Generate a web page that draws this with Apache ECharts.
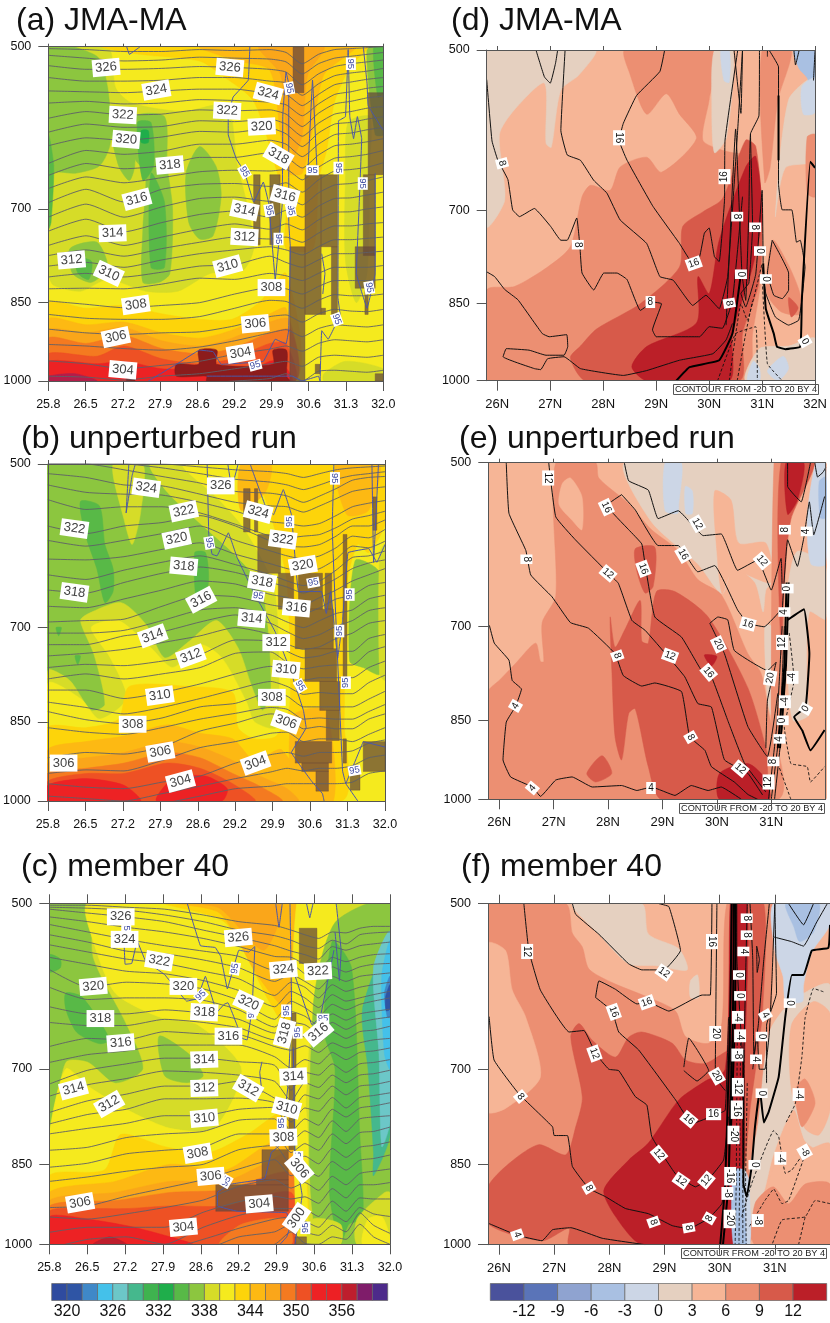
<!DOCTYPE html><html><head><meta charset="utf-8"><style>html,body{margin:0;background:#fff}#c{width:830px;height:1323px}</style></head><body><div id="c"></div>
<script src="https://cdn.jsdelivr.net/npm/echarts@6/dist/echarts.min.js"></script>
<script>
// ---- colour bands
const thetaColors=['#2f4b9f','#2f55a5','#3f88c8','#44c1ea','#6cc7c8','#45b88d','#3fb34f','#1fae4b','#58b947','#8cc63f','#d6dc28','#f5ea1e','#fdd40a','#fdb913','#faa61a','#f47a20','#ee5124','#ed2224','#ed2024','#be1e2d','#7f1c6a','#4d2a8a'];
const diffColors=['#4a529c','#5a74b8','#8fa3d0','#a9c0e2','#ccd6e6','#e5d0c0','#f6b596','#ec8f72','#d75a4a','#bb1f28'];
const [BL,TE,TL,G1,G2,YG,Y,Y2,O1,O2,O3,O4,R,DK]=['#3f88c8','#45b88d','#6cc7c8','#58b947','#8cc63f','#d6dc28','#f5ea1e','#fdd40a','#fdb913','#faa61a','#f47a20','#ee5124','#ed2224','#be1e2d'];
const MAR='#8c1c1c',B2='#a9c0e2',B1='#ccd6e6',TN='#e5d0c0',S1='#f6b596',S2='#ec8f72',S3='#d75a4a',S4='#bb1f28';
const xTicksLeft=[25.8,26.49,27.18,27.87,28.56,29.24,29.93,30.62,31.31,32];
const pressureTicks=[500,700,850,1000];
const thetaTicks=[320,326,332,338,344,350,356];
const diffTicks=[-12,-9,-6,-3,0,3,6,9,12];
// ---- theta contours
const levels=[328,327,326,325,324,323,322,321,320,319,318,317,316,315,314,313,312,311,310,309,308,307,306,305,304,303,302,301,300];
const lonsAB=[25.8,26.5,27.2,27.9,28.6,29.25,29.9,30.2,30.5,30.8,31.1,31.4,31.7,32];
const lonsC=[25.8,26.5,27.2,27.9,28.6,29.25,29.9,30.2,30.45,30.7,30.95,31.2,31.45,31.7,32];
const thetaA=[
[502,503,505,505,503,504,503,506,518,508,503,502,501,500],
[509,512,515,514,511,512,513,516,529,518,512,510,508,506],
[520,524,524,523,521,522,524,527,541,529,521,518,516,514],
[533,537,537,536,533,533,537,539,553,540,531,528,526,523],
[548,549,550,548,546,546,551,552,565,552,541,538,535,533],
[562,560,563,562,558,559,561,564,577,563,552,549,545,543],
[580,572,576,575,570,571,570,575,590,574,563,560,556,554],
[597,587,591,590,583,584,581,587,602,586,575,572,568,566],
[614,604,607,603,596,597,592,599,615,598,587,585,581,578],
[637,620,625,621,612,612,607,612,628,612,600,598,594,591],
[653,637,644,640,629,629,623,628,643,626,614,612,609,605],
[671,655,663,656,648,646,647,645,659,642,630,628,625,620],
[691,672,690,672,665,664,668,663,676,659,647,645,642,636],
[712,693,712,697,685,683,689,682,694,677,666,664,660,655],
[733,715,734,720,708,703,712,702,712,696,685,684,680,676],
[755,740,755,742,730,722,730,722,731,716,705,704,700,697],
[771,762,772,760,750,742,745,742,750,736,725,725,722,720],
[788,782,790,778,768,762,757,762,770,757,746,746,744,742],
[806,800,806,798,788,786,772,782,790,778,768,768,766,764],
[826,825,826,818,808,810,800,804,812,800,790,790,790,787],
[847,853,859,855,850,835,824,826,835,822,812,812,812,810],
[871,878,880,880,875,860,846,848,860,846,836,838,838,835],
[898,905,908,905,903,892,875,872,885,870,862,865,866,862],
[927,930,935,938,932,920,905,899,912,897,890,892,894,890],
[959,965,975,968,960,946,936,930,940,925,918,920,922,918],
[990,992,998,990,985,975,965,960,970,952,948,950,952,948],
[1005,1012,1015,1010,1005,1000,995,985,1000,980,978,980,982,978]];
const thetaB=[
[500,500,500,500,503,506,508,510,514,510,506,504,503,502],
[500,500,500,504,510,516,519,522,527,522,516,512,510,508],
[500,500,506,513,520,529,531,534,541,534,526,517,514,513],
[510,514,522,523,532,541,545,546,552,545,537,529,526,524],
[522,530,532,533,541,551,563,565,568,565,556,546,542,539],
[538,549,546,546,553,566,580,582,580,578,570,560,556,551],
[568,577,568,564,556,568,586,592,593,590,580,568,568,561],
[585,592,585,577,568,585,598,604,608,604,594,580,582,572],
[608,609,605,596,588,602,614,620,624,620,608,592,594,586],
[628,634,622,612,604,615,628,636,642,636,622,606,604,598],
[648,652,638,626,618,625,638,644,652,644,633,620,613,609],
[670,672,660,648,636,640,654,658,668,658,648,636,628,620],
[692,690,688,670,655,657,668,672,680,672,660,655,642,638],
[708,708,704,690,675,672,682,692,700,690,680,675,660,655],
[725,725,712,706,692,682,694,706,716,710,698,690,676,672],
[742,738,732,722,712,700,710,724,732,728,716,708,694,690],
[760,755,757,750,740,718,720,735,745,742,735,735,716,710],
[778,770,778,770,760,738,736,752,762,758,756,756,736,728],
[796,796,810,800,786,770,758,770,780,776,776,776,760,750],
[816,825,836,825,810,795,782,790,803,800,802,802,784,772],
[832,846,853,843,824,818,800,806,824,824,824,824,811,798],
[860,868,872,860,845,835,825,828,845,843,845,845,832,820],
[915,905,908,895,866,852,836,840,862,858,862,862,845,836],
[945,938,940,920,896,885,870,868,885,880,880,885,872,860],
[965,972,975,962,950,925,909,905,912,905,905,902,888,882],
[990,995,1000,985,970,955,942,935,940,935,935,930,915,910],
[1010,1010,1010,1005,990,975,970,965,965,965,965,962,945,940]];
const thetaC=[
[502,502,504,506,512,519,523,528,533,537,530,531,526,524,524],
[504,505,507,512,519,528,534,539,545,548,539,543,533,531,530],
[506,510,514,519,528,536,545,551,555,560,546,550,545,543,541],
[514,519,525,530,537,546,557,558,566,572,558,563,558,555,554],
[522,530,538,545,551,557,573,566,577,583,569,575,569,566,565],
[533,541,551,554,561,570,586,578,586,595,580,586,580,578,576],
[544,552,560,565,574,583,603,587,593,606,590,598,593,590,587],
[558,566,574,577,585,597,617,598,606,618,602,610,606,602,598],
[572,593,587,589,595,609,633,610,618,629,614,621,614,610,606],
[593,608,606,606,609,621,643,623,629,641,626,634,626,623,620],
[617,626,626,621,625,633,651,637,640,651,637,646,637,633,630],
[637,641,641,633,637,644,660,654,656,664,649,658,649,647,642],
[669,658,660,649,652,653,669,674,668,677,664,671,664,660,658],
[691,680,675,667,667,667,683,699,687,693,677,687,677,675,671],
[722,702,693,685,685,690,695,731,705,709,693,705,693,691,687],
[740,723,714,703,705,709,718,747,720,727,709,720,709,707,702],
[765,747,737,725,725,718,743,763,738,744,725,738,725,723,718],
[783,768,760,744,744,743,750,780,758,763,742,758,742,739,735],
[799,790,782,770,770,760,757,795,775,785,760,772,758,755,750],
[826,821,805,799,795,777,775,812,794,805,778,795,775,772,770],
[855,848,832,826,821,799,799,830,815,826,799,815,797,795,788],
[880,872,862,855,850,825,818,850,836,849,823,838,821,818,812],
[928,925,907,892,877,858,842,870,859,871,845,860,843,840,834],
[946,950,940,928,914,889,877,892,882,896,871,886,866,862,858],
[976,966,966,966,937,917,907,912,908,920,893,910,886,886,882],
[1008,990,985,1000,966,943,930,930,931,945,916,935,910,912,912],
[1010,1010,1010,1010,990,968,950,946,954,966,940,955,928,940,945],
[1010,1010,1010,1010,1010,985,975,960,975,982,962,975,938,962,978],
[1010,1010,1010,1010,1010,1005,1000,975,998,1000,985,990,960,985,1000]];
// ---- RH 95 contours
const rhA=[
[[27.25,500],[27.3,508],[27.5,500]],
[[29.53,500],[29.5,536],[29.22,555],[29.13,578],[29.13,600],[29.28,631],[29.43,648],[29.6,690],[29.78,662],[29.88,692],[30,810],[30.13,692],[30.14,576],[30.2,527],[30.25,540],[30.25,720],[30.28,758]],
[[30.61,640],[30.69,536],[30.77,640]],
[[31.17,583],[31.16,841],[31.2,871],[30.98,917],[30.86,901],[30.83,1000]],
[[31.17,583],[31.3,578],[31.35,503],[31.38,578],[31.45,605],[31.52,578],[31.6,605],[31.55,700],[31.5,800],[31.7,860],[31.85,800],[31.85,650]],
[[31.63,500],[31.7,540],[31.72,565],[32,595]],
[[27.65,1000],[28.17,966],[28.6,938],[28.85,941],[29,966],[29.78,960],[30,917],[30.2,926],[30.25,900],[30.28,758]],
[[28.73,990],[29.9,990],[30.32,990],[30.5,1000],[30.8,990],[30.83,1000]],
[[30.86,768],[30.92,800],[30.88,835]]];
const rhB=[
[[27.24,553],[27.29,500]],[[27.24,553],[27.35,512],[27.41,500]],
[[28.73,500],[28.76,578],[28.82,602],[28.91,604],[29.12,576],[29.28,606],[29.58,650],[29.98,706],[30.25,762],[30.5,830],[30.55,860],[30.28,905],[30.65,960],[30.85,985],[30.88,1000]],
[[29.11,500],[29.18,525],[29.3,500]],
[[29.52,500],[29.8,545],[29.95,555],[30.13,527],[30.28,555],[30.41,650],[30.83,650],[30.92,680],[31.0,650],[31.13,745],[31.22,690],[31.32,600],[31.7,595],[31.85,612],[32,590]],
[[31.06,500],[31.03,570],[31.22,940],[31.28,965],[31.5,1000]],
[[31.76,500],[31.79,612],[31.88,500]],
[[31.6,885],[31.28,965]],[[31.6,885],[32,895]]];
const rhC=[
[[28.31,500],[28.55,545],[28.82,547],[28.92,557],[29.04,595],[29.25,550],[29.43,552],[29.54,546],[29.49,620],[29.4,660],[29.31,658],[29.05,612],[28.98,614],[28.85,624],[28.64,580],[28.49,607],[28.3,610],[27.9,578],[27.55,562],[27.4,540],[27.3,565],[27.18,566],[27.15,525]],
[[29.92,500],[29.98,525],[30.04,500]],
[[30.18,500],[30.21,620],[30.15,720],[30.06,785],[30.03,815],[29.84,830],[29.72,875],[29.1,885],[28.86,900],[28.86,925],[29.22,935],[30.12,938],[30.18,965],[30.12,985],[30,1000]],
[[30.48,500],[30.54,515],[30.6,500]],
[[31.02,500],[31.11,550],[31.08,585],[31.0,530]],
[[30.25,575],[30.58,640],[30.73,630],[30.98,550]],
[[29.67,690],[29.63,705],[29.67,735]],
[[30.24,670],[30.27,830],[30.4,905],[30.27,1000]]];
// ---- brown shaded blocks [lon0,lon1,p0,p1]
const shadeA=[[30.33,30.53,500,550],[29.6,29.72,652,754],[29.9,30.09,652,754],[30.55,30.85,652,871],[30.85,31.15,652,757],[31.04,31.15,757,871],[30.27,30.55,757,1000],[31.63,31.85,652,771],[31.48,31.85,757,825],[31.72,32,550,652],[31.66,31.72,825,871],[30.74,30.83,966,985],[31.85,32,985,1000],[30.85,30.93,860,871]];
const shadeB=[[29.4,29.52,526,575],[29.6,29.66,526,575],[29.66,30.08,578,626],[30.04,30.32,626,674],[30.41,30.85,626,674],[30.9,31.02,626,674],[30.35,31.05,674,731],[30.53,31.11,731,782],[30.8,31.17,782,830],[30.92,31.16,830,883],[30.35,31.02,885,925],[30.47,30.96,925,941],[30.73,30.96,941,980],[31.23,31.3,578,779],[31.23,31.29,880,925],[31.6,32,885,941],[31.36,31.54,941,978],[31.78,31.85,535,573]];
const shadeC=[[30.35,30.67,526,565],[30.21,30.29,625,701],[30.16,30.27,701,825],[29.67,30.15,825,877],[29.57,30.15,877,886],[28.83,30.15,886,935],[30.27,30.48,985,1000]];
// ---- theta-e filled bands, painted back to front
const fillA=[
[Y,[[25.8,500],[32,500],[32,1000],[25.8,1000]]],
[YG,[[25.8,500],[26.9,500],[27.05,545],[27.35,562],[28.3,572],[29.1,565],[29.3,640],[29.5,700],[29.6,760],[29.4,795],[28.8,800],[28.2,830],[27.6,830],[26.9,810],[26.4,830],[25.9,820],[25.8,800]]],
[YG,[[31.35,585],[31.75,578],[31.75,640],[31.7,800],[31.5,850],[31.3,780],[31.3,650]]],
[YG,[[30.9,985],[31.3,960],[32,975],[32,1000],[30.9,1000]]],
[G2,[[25.8,500],[26.7,510],[26.9,545],[26.95,610],[26.75,640],[26.3,650],[25.9,650],[25.8,690]]],
[G2,[[26.2,760],[26.7,750],[26.9,790],[26.6,815],[26.25,800]]],
[G2,[[27.4,578],[27.95,578],[28,640],[28.1,700],[28.05,800],[27.85,815],[27.55,815],[27.55,730],[27.6,650],[27.4,630]]],
[G2,[[26.95,580],[27.4,575],[27.4,640],[27.3,660],[27.1,640]]],
[G2,[[28.35,650],[28.6,615],[28.9,640],[29,680],[28.85,740],[28.6,745],[28.4,720]]],
[G2,[[31.7,500],[32,500],[32,600],[31.85,600]]],
[G1,[[27.45,585],[27.7,585],[27.75,640],[27.55,660]]],
[G1,[[27.7,650],[27.95,690],[27.95,790],[27.7,790]]],
[G1,[[25.8,600],[25.9,640],[25.85,720],[25.8,730]]],
[G1,[[26.3,775],[26.6,780],[26.55,810],[26.35,800]]],
[G1,[[31.82,500],[32,500],[32,550],[31.9,555]]],
['#1fae4b',[[27.52,595],[27.65,595],[27.65,610],[27.52,610]]],
[Y2,[[26.8,500],[27.5,508],[28.6,515],[29,530],[29.6,560],[30,640],[30.2,700],[30.2,760],[30.7,760],[30.8,660],[30.95,620],[31.1,560],[31.4,520],[31.7,500]]],
[O1,[[28.6,500],[29.3,515],[29.9,525],[30.1,600],[30.25,650],[30.5,650],[30.7,590],[30.9,530],[31.3,510],[31.5,500]]],
[O2,[[29.7,500],[30.1,530],[30.2,590],[30.35,625],[30.5,600],[30.6,530],[30.9,500]]],
[Y2,[[25.8,850],[26.5,860],[27.2,855],[27.9,870],[28.6,880],[29.2,880],[29.7,850],[30.2,800],[30.35,1000],[25.8,1000]]],
[O1,[[25.8,880],[26.5,890],[27.2,885],[27.9,905],[28.6,915],[29.2,900],[29.9,870],[30.2,860],[30.35,1000],[25.8,1000]]],
[O2,[[25.8,900],[26.5,905],[27.2,895],[27.9,920],[28.6,930],[29.2,915],[29.9,885],[30.25,880],[30.35,1000],[25.8,1000]]],
[O3,[[25.8,915],[26.5,925],[27.2,910],[27.9,935],[28.6,945],[29.2,935],[29.9,905],[30.3,900],[30.35,1000],[25.8,1000]]],
[O4,[[25.8,945],[26.7,950],[27.2,930],[27.9,955],[28.6,965],[29.2,955],[29.9,925],[30.2,925],[30.35,1000],[25.8,1000]]],
[R,[[25.8,960],[26.7,965],[27.2,960],[27.9,975],[28.6,975],[29.5,980],[29.9,960],[30.1,960],[30.3,1000],[25.8,1000]]],
['#b41e4a',[[25.8,990],[26.3,985],[26.7,1000],[25.8,1000]]],
[MAR,[[28.58,938],[28.92,938],[28.92,966],[29.96,966],[29.96,938],[30.21,938],[30.21,990],[30.27,1000],[28.73,1000],[28.73,990],[28.17,990],[28.17,966],[28.58,966]]],
[MAR,[[27.25,993],[27.4,993],[27.4,1000],[27.25,1000]]]];
const fillB=[
[G2,[[25.8,500],[32,500],[32,1000],[25.8,1000]]],
[YG,[[25.8,1000],[25.8,765],[26.2,780],[26.6,830],[26.85,820],[26.65,740],[26.4,690],[26.55,680],[27.15,665],[27.6,695],[27.95,745],[28.4,720],[28.9,690],[29.3,730],[29.55,790],[29.75,830],[29.9,800],[29.85,700],[29.7,640],[29.2,600],[28.6,565],[28,530],[27.7,500],[32,500],[32,1000]]],
[YG,[[27,500],[27.2,560],[27.35,590],[27.5,555],[27.55,500]]],
[G1,[[26.4,540],[26.75,545],[26.85,590],[27,620],[27,650],[26.85,665],[26.7,620],[26.5,580]]],
[G1,[[28.5,600],[28.7,600],[28.75,640],[28.55,670]]],
[G1,[[25.95,700],[26.05,700],[26,712]]],
[G1,[[26.3,742],[26.4,742],[26.35,755]]],
[Y,[[25.8,1000],[25.8,785],[26.4,810],[26.75,845],[27.25,810],[26.95,745],[26.6,700],[27.1,690],[27.7,730],[28.1,760],[28.6,725],[29,745],[29.45,815],[29.6,850],[30,860],[30.05,730],[29.95,640],[29.4,570],[28.9,535],[28.3,500],[32,500],[32,1000]]],
[G2,[[31.45,610],[31.9,625],[31.9,770],[31.6,760],[31.35,750]]],
[YG,[[31.9,600],[32,590],[32,780],[31.9,770]]],
[Y2,[[25.8,1000],[25.8,860],[26.5,860],[27.1,845],[27.3,790],[28.4,790],[29.2,800],[29.3,860],[29.6,880],[30,875],[30.25,820],[30.2,640],[30.05,590],[29.75,530],[29.4,500],[32,500],[32,565],[31.7,600],[31.5,590],[31.3,640],[31.25,850],[31.2,1000]]],
[O1,[[25.8,1000],[25.8,900],[26.5,885],[27.2,875],[28,855],[28.6,870],[29.2,880],[29.6,920],[30.1,900],[30.5,1000]]],
[O1,[[29.35,500],[29.9,500],[29.8,530],[29.35,550]]],
[O1,[[31.1,500],[31.9,500],[31.7,550],[31.3,555]]],
[O1,[[30.3,840],[30.9,830],[31.05,1000],[30.35,1000]]],
[O2,[[25.8,1000],[25.8,925],[26.5,915],[27.2,905],[28,885],[28.6,895],[29.2,920],[29.7,950],[30.2,975],[30.4,1000]]],
[O3,[[25.8,1000],[25.8,945],[26.5,935],[27.2,925],[28,905],[28.6,915],[29.2,945],[29.7,970],[30.1,1000]]],
[O4,[[25.8,1000],[25.8,960],[26.5,945],[27.2,945],[28,925],[28.6,935],[29.2,965],[29.6,1000]]],
[R,[[25.8,1000],[25.8,968],[26.5,955],[27.2,968],[27.5,1000]]],
[R,[[27.8,1000],[28.1,955],[28.7,950],[29.1,975],[29,1000]]]];
const fillC=[
[YG,[[25.8,500],[32,500],[32,1000],[25.8,1000]]],
[G2,[[25.8,500],[26.5,500],[26.6,560],[27.2,640],[27.5,700],[27,720],[26.5,690],[26.1,690],[25.9,770],[25.8,790]]],
[G1,[[25.8,555],[26,560],[26,570],[25.8,575]]],
[G1,[[26.1,600],[26.4,605],[26.9,660],[26.7,665],[26.3,650],[26.1,620]]],
[G2,[[27.8,655],[28.35,680],[28.6,710],[28.3,720],[27.9,710]]],
[Y,[[26.5,500],[29.8,500],[30.3,650],[30.3,900],[25.8,900],[25.8,800],[26.1,700],[26.5,725],[27.2,760],[28,790],[28.8,790],[29.3,700],[28.5,640],[27.8,630],[27,600],[26.6,540]]],
[Y2,[[27.9,500],[29,520],[29.8,610],[30.2,650],[30.4,500]]],
[Y2,[[25.8,1000],[25.8,870],[26.8,860],[27.1,800],[27.9,820],[28.7,830],[29.4,800],[30.2,760],[30.35,1000]]],
[O1,[[28.1,500],[28.9,510],[29.6,580],[30.15,620],[30.35,500]]],
[O1,[[25.8,1000],[25.8,900],[27,880],[28,850],[29,860],[29.7,820],[30.2,800],[30.3,1000]]],
[O2,[[28.3,500],[28.9,505],[29.7,550],[30,500]]],
[O2,[[25.8,1000],[25.8,915],[27,900],[28,880],[29,880],[29.7,850],[30.2,830],[30.3,1000]]],
[O3,[[25.8,1000],[25.8,925],[27,915],[28,900],[29,895],[30.2,865],[30.3,1000]]],
[O4,[[25.8,1000],[25.8,935],[26.5,930],[27.2,930],[28,925],[29,925],[30.2,900],[30.25,1000]]],
[R,[[25.8,1000],[25.8,945],[26.5,950],[27.3,965],[28,985],[28.4,1000]]],
[DK,[[26.6,1000],[26.9,985],[27.2,1000]]],
[O3,[[28.9,1000],[29.3,960],[30.1,950],[30.2,1000]]],
[Y,[[30.3,500],[31,500],[31,640],[30.6,640],[30.5,700],[30.45,800],[30.5,1000],[30.3,1000]]],
[G2,[[30.6,620],[31,520],[32,500],[32,1000],[30.7,1000]]],
[G1,[[30.95,540],[31.3,570],[31.45,800],[31.5,950],[31.25,960],[31.1,1000],[30.9,900],[31,700],[30.8,650]]],
[TE,[[31.5,620],[32,540],[32,800],[31.7,870],[31.7,830],[31.6,700]]],
[TL,[[31.7,570],[32,530],[32,780],[31.85,820],[31.8,680]]],
['#44c1ea',[[31.85,580],[32,540],[32,700],[31.9,680]]],
[BL,[[31.9,600],[32,580],[32,630],[31.95,630]]],
['#2f55a5',[[31.92,605],[32,590],[32,620],[31.93,622]]],
[YG,[[31.4,950],[31.9,900],[32,900],[32,1000],[31.4,1000]]],
[Y,[[31.5,1000],[31.6,950],[31.85,945],[32,985],[32,1000]]],
[YG,[[30.5,1000],[30.6,950],[31.1,960],[31.1,1000]]]];
// ---- perturbation filled bands
const fillD=[
[S1,[[25.8,500],[32,500],[32,1000],[25.8,1000]]],
[TN,[[25.8,500],[27.85,500],[27.54,527],[27.2,544],[27.02,613],[26.92,608],[26.89,536],[26.32,567],[26.04,597],[26.14,685],[25.8,724]]],
[S2,[[25.8,827],[26.32,821],[26.95,788],[27.38,755],[27.6,680],[27.76,664],[28.13,671],[28.32,639],[28.82,626],[29.1,646],[29.76,602],[29.44,572],[29.19,548],[28.82,572],[28.5,525],[28.41,500],[30.1,500],[30,555],[29.88,604],[30.25,617],[30.88,631],[31,788],[30.82,906],[30.69,1000],[25.8,1000]]],
[S3,[[27.67,1000],[27.38,953],[27.57,930],[27.88,897],[28.7,851],[29.44,788],[29.5,724],[29.88,702],[30.25,683],[30.69,604],[30.88,612],[31,709],[30.94,815],[30.63,906],[30.57,1000]]],
[S4,[[28.54,971],[28.82,931],[29.76,886],[29.79,804],[30,833],[30.19,745],[30.69,639],[30.88,625],[31,709],[30.82,788],[30.44,906],[30.38,1000],[28.82,1000]]],
[TN,[[30.1,500],[30.45,500],[30.33,600],[30.1,620],[30.05,560]]],
[B1,[[30.22,500],[30.38,500],[30.38,535],[30.28,533]]],
[S2,[[31,500],[31.55,500],[31.3,555],[31.15,640],[31.05,660]]],
[TN,[[31.5,555],[32,530],[32,630],[31.44,640],[31.25,709]]],
[S2,[[31.85,600],[32,597],[32,680],[31.85,675]]],
[S2,[[31.2,745],[31.5,785],[31.72,835],[31.7,870],[31.35,865],[31.08,830]]],
[S3,[[31.5,840],[31.68,858],[31.55,875]]],
[B2,[[31.6,500],[32,500],[32,555],[31.85,530],[31.7,520]]],
[B1,[[31.75,540],[32,530],[32,570],[31.78,572]]],
[TN,[[30.69,1000],[30.95,935],[31.5,930],[32,915],[32,1000]]],
[B1,[[30.72,1000],[30.83,960],[30.95,975],[30.95,1000]]],
[B1,[[31.1,980],[31.4,950],[31.5,975],[31.3,1000]]]];
const fillE=[
[S1,[[25.8,500],[32,500],[32,1000],[25.8,1000]]],
[TN,[[28.31,500],[31.09,500],[31,640],[30.9,650],[30.85,680],[30.7,640],[30.3,620],[30.1,655],[29.65,616],[28.8,565]]],
[TN,[[30.88,700],[31,700],[31,840],[30.93,815]]],
[S1,[[29.96,530],[30.26,540],[30.4,590],[30.9,590],[31,640],[30.3,625],[30.1,655],[30,600]]],
[B1,[[29.05,500],[29.35,500],[29.3,545],[29.28,555],[29.05,552]]],
[B1,[[29.42,525],[29.55,530],[29.55,555],[29.43,555]]],
[S2,[[25.8,801],[26,783],[26.3,756],[26.67,725],[26.76,753],[26.82,753],[26.79,695],[27.04,658],[27.04,500],[27.77,500],[27.83,516],[28.38,544],[28.8,574],[29.29,599],[29.65,636],[30.08,656],[30.57,741],[30.81,771],[30.93,826],[31.12,1000],[25.8,1000]]],
[S1,[[27.31,516],[27.52,536],[27.52,574],[27.34,563],[27.1,545],[27.16,522]]],
[S3,[[28.04,687],[28.13,731],[28.31,705],[28.59,664],[28.62,722],[28.74,725],[28.89,652],[29.23,652],[29.84,687],[30.57,795],[30.93,911],[30.93,929],[30.87,1000],[28.98,1000],[28.74,935],[28.5,830],[28.38,838],[28.25,922],[28.13,880],[28.07,766]]],
[S3,[[27.61,948],[27.89,914],[28.07,948],[27.77,965]]],
[S3,[[28.5,597],[28.86,595],[28.83,645],[28.68,654],[28.53,625]]],
[S4,[[30.05,948],[30.57,929],[30.9,960],[30.96,1000],[30.05,1000]]],
[S4,[[29.77,743],[30,745],[29.9,760]]],
[S2,[[31.05,500],[31.18,500],[31.24,640],[31.15,900],[31.05,1000],[31,840]]],
[S3,[[31.18,500],[31.79,500],[31.36,562],[31.24,645],[31.18,742]]],
[S4,[[31.27,500],[31.6,500],[31.48,540],[31.3,556]]],
[TN,[[31.48,600],[32,620],[32,690],[31.7,680],[31.65,800],[31.7,840],[31.4,850],[31.3,760],[31.3,650]]],
[B1,[[31.82,500],[32,500],[32,616],[31.73,616],[31.66,561]]],
[B2,[[31.88,520],[32,515],[32,560],[31.9,560]]]];
const fillF=[
[S1,[[25.8,500],[32,500],[32,1000],[25.8,1000]]],
[S2,[[25.8,500],[27.21,500],[27.33,531],[27.51,546],[27.63,571],[28.05,587],[28.71,605],[29.2,622],[29.38,655],[29.8,664],[30.04,637],[30.13,500],[30.52,500],[30.52,1000],[25.8,1000]]],
[S1,[[25.8,542],[26.12,550],[26.24,596],[26.48,629],[26.75,711],[26.12,758],[25.8,763]]],
[S3,[[25.8,889],[26.18,848],[26.72,816],[27.21,833],[27.39,787],[27.51,741],[27.3,655],[27.45,638],[27.69,660],[28.11,683],[28.35,656],[28.59,649],[29.14,664],[29.38,687],[29.74,692],[30.22,675],[30.25,1000],[27.27,1000],[27.27,967],[26.78,992],[25.8,958]]],
[TN,[[27.33,500],[28.59,500],[28.71,532],[29.26,548],[29.41,572],[28.83,567],[28.35,565],[27.81,532]]],
[TN,[[29.47,585],[29.6,578],[29.62,605],[29.47,605]]],
[S4,[[27.9,895],[28.35,842],[28.71,813],[29.26,745],[29.74,717],[30.1,700],[30.19,500],[30.25,500],[30.25,1000],[28.59,1000],[28.11,944]]],
[S2,[[30.8,500],[30.95,500],[30.92,640],[30.7,780],[30.55,860],[30.4,860],[30.4,500]]],
[S3,[[30.4,500],[30.8,500],[30.78,620],[30.65,700],[30.55,760],[30.45,850]]],
[S4,[[30.25,500],[30.5,500],[30.45,700],[30.42,880],[30.25,880]]],
[B2,[[30.25,860],[30.45,860],[30.55,950],[30.5,1000],[30.25,1000]]],
[B1,[[30.45,860],[30.6,900],[30.55,1000],[30.5,1000]]],
[TN,[[30.7,780],[30.9,650],[31.3,610],[32,590],[32,815],[31.8,825],[31.55,810],[31.35,760],[31.15,790],[30.95,840],[30.8,900],[30.6,960],[30.55,860]]],
[S1,[[31.3,640],[31.7,610],[32,625],[32,760],[31.8,800],[31.55,790],[31.3,730]]],
[S2,[[31.37,730],[31.55,714],[31.73,750],[31.49,787]]],
[B1,[[30.98,500],[32,500],[32,522],[31.67,552],[31.52,590],[31.5,610],[31.2,610],[31.15,580],[31,550]]],
[B2,[[31.2,500],[31.8,500],[31.7,530],[31.45,540],[31.35,525]]],
[S1,[[30.7,960],[31,850],[31.5,830],[32,815],[32,1000],[30.6,1000]]],
[S2,[[30.64,920],[30.97,889],[31.25,920],[31.55,884],[32,884],[32,1000],[30.64,1000]]]];
// ---- perturbation contours
const solidD=[
[[25.8,532],[25.9,605],[26.01,630],[26.2,656],[26.29,699],[26.42,709],[26.7,697],[27.01,724],[27.2,745],[27.32,745],[27.5,711],[27.56,755],[27.6,798],[27.82,827],[28.01,798],[28.26,798],[28.45,809],[28.7,863],[28.94,848],[29.1,851],[28.93,899],[29,912],[29.82,912],[30,893],[30.25,896],[30.44,845],[30.63,680]],
[[25.8,796],[25.95,804],[26.14,826],[26.39,844],[26.85,906],[26.98,912],[27.31,908],[27.33,931],[27.26,948],[26.92,948],[26.6,938],[26.17,935],[26.11,951],[26.7,975],[26.82,977],[26.95,955],[27.26,951],[27.57,975],[28.38,989],[28.82,979],[29.44,958],[30.07,945],[30.32,918],[30.44,887]],
[[26.73,500],[26.89,529],[27,536],[27.1,514],[27.14,500]],
[[27.28,500],[27.2,592],[27.32,623],[27.57,630],[27.82,657],[28.07,675],[28.32,714],[28.82,750],[29.07,804],[29.32,810],[29.69,854],[29.94,836],[30.19,860],[30.35,804],[30.54,590],[30.63,500]],
[[29.16,500],[29.07,523],[28.63,550],[28.38,583],[28.3,604],[28.45,630],[28.94,694],[29.44,750],[29.69,782],[29.82,771],[29.91,734],[30,726],[30.1,771],[30.19,779],[30.29,685],[30.3,604],[30.54,500]],
[[30.47,500],[30.6,571],[30.63,500]],
[[30.32,890],[30.5,590],[30.62,800],[30.69,845],[30.75,700],[30.78,596],[30.94,574],[30.95,500]],
[[30.78,596],[30.82,724],[30.75,815],[30.6,833],[30.69,857],[30.88,800],[31,671],[31.02,782]],
[[31.13,500],[31.31,518],[31.31,662],[31.38,699],[31.56,699],[31.65,748],[31.72,745],[31.81,788],[31.75,844],[31.69,881],[31.5,890],[31.25,875],[31.07,833],[31,788]],
[[31.19,745],[31.5,798],[31.5,827],[31.38,842],[31.22,836],[31.1,798],[31.19,745]],
[[31.6,500],[31.63,516],[31.7,500]],[[31.97,533],[32,500]],[[31.1,500],[31.1,507]]];
const zeroD=[
[[30.6,798],[30.44,906],[30.19,958],[29.63,972],[29.38,1000]],
[[32,640],[31.91,632],[31.75,844],[31.72,931],[31.44,936],[31.28,931],[31.22,906],[31.07,860],[31.02,782]],
[[31.31,550],[31.31,630]]];
const dashD=[
[[30.16,1000],[30.5,906],[30.88,893],[30.91,1000]],
[[30.38,1000],[30.6,851],[30.72,881],[31,782]],
[[30.53,1000],[30.69,906],[30.82,846]],
[[31,804],[31.1,965],[31.38,1000]]];
const solidE=[
[[26.13,500],[26.18,555],[26.49,599],[26.58,630],[26.97,659],[27.31,695],[27.64,703],[28.13,741],[28.28,775],[28.62,792],[28.86,787],[29.35,801],[29.5,879],[29.78,904],[29.9,935],[30.32,965],[30.57,990],[30.75,1000]],
[[25.82,699],[25.91,725],[26.18,751],[26.24,783],[26.41,797],[26.3,826],[26.13,853],[26.07,922],[26.21,955],[26.61,975],[26.76,994],[27.04,961],[27.34,955],[27.71,975],[28.25,972],[28.53,982],[28.8,975],[29.23,992],[29.53,972],[29.84,982],[30.08,975],[30.45,1000]],
[[26.91,500],[27.04,559],[27.4,586],[28.01,628],[28.19,641],[28.44,692],[28.68,706],[29.11,746],[29.41,777],[29.65,821],[29.9,827],[30.14,922],[30.57,948],[30.84,991]],
[[28.25,534],[27.98,546],[28.38,574],[28.62,591],[28.68,616],[28.86,687],[29.35,716],[29.71,766],[29.9,777],[30.2,850],[30.51,929],[30.9,985]],
[[28.25,534],[28.5,551],[28.92,593],[29.29,593],[29.65,626],[29.96,618],[30.38,677],[30.57,696],[30.87,701],[31.18,677]],
[[28.3,500],[28.38,519],[28.74,529],[28.92,561],[29.29,552],[29.75,581],[30.08,579],[30.38,624],[30.75,611],[31,650],[31.18,609],[31.2,650]],
[[29.87,696],[30.02,687],[30.2,691],[30.32,736],[30.93,767],[31.09,754],[30.93,815],[30.9,900]],
[[29.87,696],[30.14,741],[30.57,861],[30.93,916],[31.12,804]],
[[31.3,500],[31.3,525],[31.55,542],[31.72,500]],
[[31.8,500],[31.85,515],[31.95,510],[32,505]],
[[31.2,680],[31.3,586],[31.48,619],[31.6,583],[31.7,542],[31.78,580],[31.98,536]],
[[31.24,700],[31.16,860],[31.0,1000]],[[31.27,700],[31.2,860],[31.06,1000]],[[31.2,700],[31.1,860],[30.95,1000]]];
const zeroE=[
[[31.28,640],[31.24,760],[31.12,900]],[[31.32,640],[31.27,760],[31.16,900]],
[[31.3,691],[31.6,676],[31.7,741],[31.63,827],[31.42,844],[31.57,868],[31.72,904],[31.98,867]]];
const dashE=[
[[31.33,710],[31.42,782],[31.24,862],[31.36,929],[31.66,935],[31.72,965],[31.98,935]],
[[31.12,929],[31.36,1000]]];
const solidF=[
[[25.82,958],[26.33,981],[26.78,992],[26.97,970],[27.3,966],[27.87,987],[28.65,1000]],
[[25.82,629],[25.91,687],[26.36,736],[26.97,787],[27,801],[27.24,801],[27.33,853],[27.63,892],[27.93,907],[28.29,929],[28.71,939],[29.14,962],[29.44,968],[29.8,948],[30.04,920],[30.16,854],[30.19,720],[30.21,500]],
[[26.45,500],[26.54,550],[26.75,596],[27.27,649],[27.54,647],[27.75,678],[27.99,700],[28.17,702],[28.47,740],[28.68,753],[28.77,803],[29.2,866],[29.56,889],[29.8,875],[30.07,842],[30.16,771]],
[[27.75,605],[27.81,585],[28.11,595],[28.5,613],[28.71,611],[29.08,622],[29.68,602],[29.83,602],[29.86,500]],
[[27.75,605],[28.05,622],[28.17,649],[28.53,673],[29.2,745],[29.5,782],[29.92,768],[30.1,761],[30.16,630]],
[[27.33,500],[27.39,511],[27.81,532],[28.35,565],[28.59,572],[28.99,572],[29.29,550],[29.08,503],[28.9,500]],
[[29.35,697],[29.44,657],[29.8,702],[29.59,717],[29.35,702]],
[[29.95,500],[29.92,711],[30.1,731]],
[[30.31,500],[30.31,556],[30.43,694],[30.47,580],[30.5,500]],
[[30.55,500],[30.6,560],[30.62,680],[30.7,640],[30.8,560],[30.9,500]],
[[31,500],[30.95,580],[30.9,650],[30.82,700],[30.72,700],[30.68,650],[30.6,700]],
[[31,500],[31.03,600],[30.85,640],[30.85,720]],
[[30.67,545],[30.72,560],[30.68,575],[30.67,545]],
[[31.25,500],[31.52,522],[31.7,500]],
[[30.98,535],[31.3,540],[31.52,545],[31.75,520],[31.95,500]]];
const zeroF=[
[[30.22,500],[30.19,630],[30.1,883],[30.01,1000]],
[[30.26,500],[30.24,630],[30.16,883],[30.06,1000]],
[[30.29,500],[30.28,630],[30.2,800]],
[[32,522],[31.97,547],[31.67,550],[31.52,578],[31.31,578],[31.19,629],[31.07,711],[30.89,763],[30.8,780],[30.73,730],[30.64,787],[30.58,853],[30.49,907],[30.43,883],[30.43,673]]];
const dashF=[
[[31.88,598],[31.7,594],[31.55,630],[31.49,683],[31.37,751],[31.19,782]],
[[31.55,826],[31.31,859],[31.19,865],[31.07,803],[30.98,793],[30.58,883],[30.4,945]],
[[32,920],[31.73,914],[31.55,945],[31.13,951],[30.95,1000]],
[[31.55,832],[31.25,914],[31.13,920],[30.98,893],[30.82,914],[30.52,967]],
[[31.43,1000],[31.55,945]],
[[30.32,650],[30.3,880],[30.28,1000]],[[30.38,650],[30.36,880],[30.35,1000]],[[30.44,680],[30.42,880],[30.42,1000]],[[30.5,720],[30.47,880],[30.48,1000]]];
// ---- contour labels [lon,p,text,rotation]
const labelsA=[[26.87,522,'326',5],[29.16,522,'326',-5],[27.8,547,'324',10],[29.87,551,'324',-15],[27.18,576,'322',-3],[29.11,571,'322',-3],[27.24,606,'320',-5],[29.75,590,'320',3],[28.05,639,'318',5],[30.06,627,'318',-30],[27.44,686,'316',15],[30.18,681,'316',-15],[26.99,736,'314',2],[29.43,702,'314',-12],[26.23,778,'312',5],[29.43,742,'312',-3],[26.92,800,'310',-25],[29.12,788,'310',15],[27.42,854,'308',8],[29.93,824,'308',0],[27.05,913,'306',12],[29.63,888,'306',5],[27.18,977,'304',-5],[29.36,944,'304',10]];
const rhLabelsA=[[29.43,648,'95',-60],[30.26,545,'95',-80],[31.4,518,'95',-90],[30.69,646,'95',0],[31.17,643,'95',-90],[31.62,664,'95',-90],[29.89,702,'95',-80],[30.29,702,'95',-80],[30.06,745,'95',-90],[31.74,824,'95',-80],[31.14,880,'95',-70],[29.63,968,'95',15]];
const labelsB=[[28.98,523,'326',0],[27.61,525,'324',-8],[29.67,552,'324',-15],[26.29,571,'322',-8],[28.3,551,'322',12],[30.12,584,'322',-8],[28.17,583,'320',12],[30.49,616,'320',10],[26.29,651,'318',-8],[28.3,617,'318',-5],[29.74,637,'318',-10],[28.62,661,'316',28],[30.37,672,'316',-5],[27.73,712,'314',20],[29.55,687,'314',-5],[28.43,742,'312',20],[30,722,'312',0],[27.86,805,'310',8],[30.18,763,'310',-5],[27.36,854,'308',0],[29.92,808,'308',0],[26.09,925,'306',0],[27.87,904,'306',10],[30.18,850,'306',-20],[28.24,960,'304',15],[29.62,925,'304',20]];
const rhLabelsB=[[28.77,588,'95',-80],[30.24,563,'95',90],[29.67,656,'95',-10],[30.68,638,'95',10],[31.08,515,'95',-90],[31.35,654,'95',90],[31.16,705,'95',90],[30.44,789,'95',-60],[31.28,784,'95',90],[31.44,939,'95',10]];
const labelsC=[[27.1,514,'326',0],[27.17,538,'324',0],[27.8,562,'322',-10],[26.6,592,'320',5],[28.24,592,'320',0],[26.73,632,'318',0],[28.62,624,'318',-3],[27.1,664,'316',5],[29.06,655,'316',0],[26.24,729,'314',15],[28.62,687,'314',2],[26.89,752,'312',30],[28.62,728,'312',2],[28.62,774,'310',5],[28.5,831,'308',10],[26.36,919,'306',10],[28.74,871,'306',5],[28.24,966,'304',5],[29.24,536,'326',5],[30.06,572,'324',5],[30.69,574,'322',3],[29.42,612,'320',-25],[30.08,651,'318',75],[30.7,650,'316',40],[30.24,711,'314',3],[29.42,728,'312',-30],[30.12,758,'310',-15],[30.06,805,'308',2],[30.35,857,'306',-50],[29.62,921,'304',5],[30.3,948,'300',55]];
const rhLabelsC=[[27.2,523,'95',-90],[28.56,603,'95',45],[29.18,571,'95',80],[29.48,625,'95',90],[30.11,622,'95',90],[30.32,650,'95',90],[30.78,632,'95',0],[30.03,782,'95',90],[30.33,838,'95',90],[29.02,880,'95',60],[30.46,967,'95',90]];
const labelsD=[[26.09,634,'8',-75],[27.52,752,'8',-90],[28.3,601,'16',-90],[28.89,848,'8',0],[29.71,782,'16',20],[30.29,652,'16',90],[30.53,709,'8',-90],[30.87,725,'8',-90],[30.96,762,'0',-90],[30.6,800,'0',-90],[31.07,808,'0',-90],[30.38,850,'8',-80],[31.81,921,'0',-60]];
const labelsE=[[26.5,610,'8',-90],[26.9,516,'12',-90],[27.97,548,'16',-65],[29.64,567,'12',-60],[29.38,604,'16',-60],[30.83,612,'12',-50],[28.65,622,'16',-70],[28,628,'12',-40],[30.03,727,'20',-65],[30.57,697,'16',-15],[28.17,744,'8',-70],[29.14,744,'12',-20],[29.85,770,'16',-50],[30.98,779,'20',80],[26.3,825,'4',60],[29.52,880,'8',-60],[26.61,977,'4',50],[28.79,977,'4',0],[30.43,939,'12',-40],[30.95,965,'12',90],[31.04,925,'8',90],[31.15,883,'4',90],[31.21,850,'0',90],[31.25,818,'-4',90],[31.3,648,'0',90],[31.24,680,'4',90],[31.2,724,'12',90],[31.25,574,'8',90],[31.65,576,'4',90],[31.39,778,'-4',90],[31.63,830,'0',60]];
const labelsF=[[26.51,551,'12',-90],[28.99,575,'12',-35],[28.68,611,'16',20],[28.08,623,'16',-70],[27.73,678,'12',-70],[29.86,540,'16',-90],[26.39,740,'8',-50],[29.44,775,'16',-40],[29.89,767,'16',0],[29.92,651,'20',-90],[29.95,710,'20',-60],[28.9,832,'12',-50],[29.3,878,'12',-35],[29.76,877,'12',50],[27.63,891,'8',-60],[28.8,955,'8',-70],[29.44,966,'8',-80],[29.81,948,'8',60],[26.33,980,'4',-70],[30.49,515,'8',-90],[30.49,533,'8',-90],[30.43,551,'4',-90],[30.35,578,'0',-90],[30.37,603,'0',-90],[30.33,630,'-4',-90],[30.37,654,'-4',-90],[30.32,680,'-8',-90],[30.33,726,'-12',-90],[30.31,760,'-16',-90],[30.25,800,'-20',-90],[30.19,870,'-16',-90],[30.14,901,'-8',-90],[30.18,949,'-20',-90],[30.76,655,'0',-90],[30.83,627,'4',-60],[30.66,686,'4',-90],[30.76,735,'0',-90],[31.27,612,'0',-90],[31.43,737,'-4',-90],[31.1,839,'-4',-90],[30.63,850,'0',-90],[31.54,828,'-8',-60],[30.69,952,'-8',-90]];

// ---- layout
const FONT='"Liberation Sans",Arial,sans-serif';
const panels=[
{k:'t',title:'(a) JMA-MA',tx:16,ty:5,g:[48.3,46.7,335,334.3],top:3,fill:fillA,shade:shadeA,lons:lonsAB,theta:thetaA,rh:rhA,labels:labelsA,rhl:rhLabelsA},
{k:'t',title:'(b) unperturbed run',tx:21,ty:423,g:[47.3,464,337.7,337],top:4,fill:fillB,shade:shadeB,lons:lonsAB,theta:thetaB,rh:rhB,labels:labelsB,rhl:rhLabelsB},
{k:'t',title:'(c) member 40',tx:21,ty:851,g:[49.3,903.3,340.7,341],top:9,fill:fillC,shade:shadeC,lons:lonsC,theta:thetaC,rh:rhC,labels:labelsC,rhl:rhLabelsC},
{k:'d',title:'(d) JMA-MA',tx:451,ty:5,g:[486.7,50,331.6,330.7],top:4,fill:fillD,solid:solidD,zero:zeroD,dash:dashD,labels:labelsD,xt:[26,27,28,29,30,31,32],box:[673,384]},
{k:'d',title:'(e) unperturbed run',tx:459,ty:423,g:[488.3,462.7,337.4,336.6],top:4,fill:fillE,solid:solidE,zero:zeroE,dash:dashE,labels:labelsE,xt:[26,27,28,29,30,31],box:[679,803]},
{k:'d',title:'(f) member 40',tx:461,ty:851,g:[488,903.7,342,341],top:9,fill:fillF,solid:solidF,zero:zeroF,dash:dashF,labels:labelsF,xt:[26,27,28,29,30,31],box:[681,1248]}
];
const grid=[],xAxis=[],yAxis=[],series=[],title=[];
const AX={lineStyle:{color:'#555',width:1}};
function polySeries(gi,list,smooth,z){
  series.push({type:'custom',xAxisIndex:gi*2,yAxisIndex:gi*2,clip:true,z,silent:true,data:list.map((_,i)=>[i]),
    renderItem(p,api){const it=list[p.dataIndex];
      return{type:'polygon',shape:{points:it[1].map(q=>api.coord(q)),smooth},style:{fill:it[0],stroke:it[0],lineWidth:0.5}};}});
}
function lineSeries(gi,pts,color,width,type,z,smooth){
  series.push({type:'line',xAxisIndex:gi*2,yAxisIndex:gi*2,data:pts,showSymbol:false,symbol:'none',smooth,silent:true,z,
    lineStyle:{color,width,type},animation:false});
}
function labelSeries(gi,list,color,size,z,pad){
  series.push({type:'scatter',xAxisIndex:gi*2,yAxisIndex:gi*2,symbolSize:1,itemStyle:{color:'rgba(0,0,0,0)',opacity:1},z,silent:true,
    label:{show:true,position:'inside',color,fontSize:size,fontFamily:FONT,backgroundColor:'#fff',padding:pad},
    labelLayout:{hideOverlap:false},
    data:list.map(l=>({value:[l[0],l[1]],label:{formatter:l[2],rotate:l[3]}}))});
}
panels.forEach((P,i)=>{
  const [l,t,w,h]=P.g;
  grid.push({left:l,top:t,width:w,height:h,containLabel:false});
  title.push({text:P.title,left:P.tx,top:P.ty,padding:0,textStyle:{fontFamily:FONT,fontSize:32,fontWeight:'normal',color:'#111'}});
  const isT=P.k==='t', xt=isT?xTicksLeft:P.xt;
  const xfmt=isT?(v=>v.toFixed(1)):(v=>v+'N');
  xAxis.push({gridIndex:i,type:'value',min:25.8,max:32,position:'bottom',z:20,splitLine:{show:false},axisLine:AX,
    axisTick:{length:10,lineStyle:AX.lineStyle,customValues:xt},
    axisLabel:{customValues:xt,formatter:xfmt,margin:17,color:'#111',fontFamily:FONT,fontSize:isT?12.5:13,hideOverlap:false,showMinLabel:true,showMaxLabel:true}});
  xAxis.push({gridIndex:i,type:'value',min:25.8,max:32,position:'top',z:20,splitLine:{show:false},axisLine:AX,
    axisTick:{length:P.top,lineStyle:AX.lineStyle,customValues:xt},axisLabel:{show:false}});
  yAxis.push({gridIndex:i,type:'log',logBase:2,min:500,max:1000,inverse:true,position:'left',z:20,splitLine:{show:false},axisLine:AX,
    axisTick:{length:10,lineStyle:AX.lineStyle,customValues:pressureTicks},
    axisLabel:{customValues:pressureTicks,formatter:v=>String(v),margin:17,color:'#111',fontFamily:FONT,fontSize:12.5}});
  yAxis.push({gridIndex:i,type:'log',logBase:2,min:500,max:1000,inverse:true,position:'right',z:20,splitLine:{show:false},axisLine:AX,
    axisTick:{show:false},axisLabel:{show:false}});
  polySeries(i,P.fill,0.25,2);
  if(isT){
    if(P.shade.length){
      const rects=P.shade.map(r=>['rgba(100,70,60,0.72)',[[r[0],r[2]],[r[1],r[2]],[r[1],r[3]],[r[0],r[3]]]]);
      polySeries(i,rects,0,3);
    }
    P.theta.forEach((row,j)=>lineSeries(i,P.lons.map((x,n)=>[x,row[n]]),'#5f6068',0.9,'solid',4,0.2));
    P.rh.forEach(pts=>lineSeries(i,pts,'#4b57a8',1,'solid',5,0.05));
    labelSeries(i,P.rhl,'#3f4ba0',9.5,6,[0,1]);
    labelSeries(i,P.labels,'#444',13,7,[2,3]);
  }else{
    P.solid.forEach(pts=>lineSeries(i,pts,'#111',1,'solid',4,0.1));
    P.zero.forEach(pts=>lineSeries(i,pts,'#000',2,'solid',5,0.1));
    P.dash.forEach(pts=>lineSeries(i,pts,'#111',0.9,[3,2],5,0.1));
    labelSeries(i,P.labels,'#111',10,7,[1,2]);
    title.push({text:'CONTOUR FROM -20 TO 20 BY 4',left:P.box[0],top:P.box[1],padding:[1,2],borderColor:'#555',borderWidth:1,backgroundColor:'#fff',
      textStyle:{fontFamily:FONT,fontSize:9.2,fontWeight:'normal',color:'#222'}});
  }
});
// ---- colour bars
function colorBar(gi,l,w,minV,step,colors,ticks){
  grid.push({left:l,top:1283.5,width:w,height:17});
  xAxis.push({gridIndex:gi,type:'value',min:minV,max:minV+step*colors.length,z:20,splitLine:{show:false},axisLine:{show:false},
    axisTick:{show:false},axisLabel:{customValues:ticks,formatter:v=>String(v),margin:3,color:'#111',fontFamily:FONT,fontSize:16,hideOverlap:false}});
  yAxis.push({gridIndex:gi,type:'value',min:0,max:1,show:false});
  series.push({type:'custom',xAxisIndex:xAxis.length-1,yAxisIndex:yAxis.length-1,silent:true,data:colors.map((c,n)=>[minV+n*step]),
    renderItem(p,api){const v=api.value(0),a=api.coord([v,1]),b=api.coord([v+step,0]);
      return{type:'rect',shape:{x:a[0],y:a[1],width:b[0]-a[0],height:b[1]-a[1]},style:{fill:colors[p.dataIndex],stroke:'#666',lineWidth:0.7}};}});
}
colorBar(6,51.7,336,318,2,thetaColors,thetaTicks);
colorBar(7,490.3,336.4,-15,3,diffColors,diffTicks);
const chart=echarts.init(document.getElementById('c'),null,{renderer:'canvas'});
chart.setOption({animation:false,backgroundColor:'#fff',title,grid,xAxis,yAxis,series});
</script></body></html>
